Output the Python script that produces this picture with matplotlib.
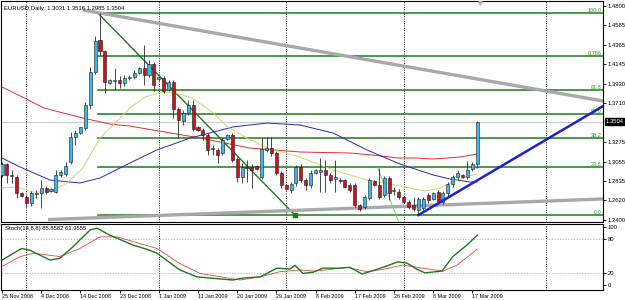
import numpy as np
import matplotlib
matplotlib.use("Agg")
import matplotlib.pyplot as plt
import matplotlib.transforms as mtrans

plt.rcParams['font.family'] = ['Liberation Sans', 'DejaVu Sans']

# EURUSD daily bars, bar 0 = 25 Nov 2008 ... bar 97 = 18 Mar 2009
opens = [1.2906, 1.3029, 1.2906, 1.2883, 1.2704, 1.2659, 1.2592, 1.2693, 1.2704, 1.2760,
         1.2726, 1.2715, 1.2906, 1.2917, 1.3051, 1.3331, 1.3376, 1.3432, 1.3690, 1.4060,
         1.4419, 1.4296, 1.3937, 1.3959, 1.3970, 1.3937, 1.3993, 1.4004, 1.4049, 1.4105,
         1.4027, 1.4150, 1.3982, 1.3993, 1.3858, 1.3948, 1.3645, 1.3511, 1.3601, 1.3690,
         1.3444, 1.3410, 1.3354, 1.3208, 1.3186, 1.3152, 1.3309, 1.3354, 1.3085, 1.2883,
         1.2995, 1.2995, 1.3006, 1.2883, 1.3186, 1.3208, 1.3152, 1.2928, 1.2793, 1.2737,
         1.2816, 1.2995, 1.2849, 1.2793, 1.2928, 1.2939, 1.2962, 1.2906, 1.2861, 1.2849,
         1.2849, 1.2793, 1.2793, 1.2569, 1.2547, 1.2648, 1.2838, 1.2793, 1.2681, 1.2872,
         1.2726, 1.2715, 1.2659, 1.2603, 1.2569, 1.2513, 1.2536, 1.2681, 1.2637, 1.2715,
         1.2603, 1.2704, 1.2805, 1.2883, 1.2906, 1.2883, 1.2973, 1.3031]
highs = [1.3051, 1.3040, 1.2962, 1.2906, 1.2715, 1.2681, 1.2726, 1.2737, 1.2849, 1.2782,
         1.2760, 1.2962, 1.2962, 1.3051, 1.3388, 1.3410, 1.3444, 1.3724, 1.4116, 1.4464,
         1.4722, 1.4307, 1.3982, 1.4105, 1.4015, 1.4027, 1.4027, 1.4083, 1.4116, 1.4363,
         1.4195, 1.4172, 1.4015, 1.4015, 1.3970, 1.3970, 1.3668, 1.3634, 1.3746, 1.3746,
         1.3455, 1.3432, 1.3376, 1.3242, 1.3208, 1.3320, 1.3365, 1.3376, 1.3107, 1.3040,
         1.3074, 1.3029, 1.3018, 1.3320, 1.3331, 1.3331, 1.3175, 1.2950, 1.2805, 1.2827,
         1.3018, 1.3029, 1.2872, 1.2962, 1.2973, 1.3096, 1.3074, 1.2928, 1.3074, 1.2872,
         1.2861, 1.2816, 1.2816, 1.2580, 1.2681, 1.2872, 1.2849, 1.2984, 1.2894, 1.2894,
         1.2771, 1.2749, 1.2670, 1.2625, 1.2659, 1.2659, 1.2659, 1.2704, 1.2715, 1.2737,
         1.2726, 1.2827, 1.2906, 1.2962, 1.2917, 1.3063, 1.3051, 1.3516]
lows = [1.2883, 1.2816, 1.2816, 1.2648, 1.2659, 1.2547, 1.2558, 1.2648, 1.2536, 1.2693,
        1.2715, 1.2704, 1.2883, 1.2894, 1.3029, 1.3242, 1.3365, 1.3410, 1.3645, 1.4038,
        1.4251, 1.3825, 1.3926, 1.3858, 1.3881, 1.3903, 1.3970, 1.3982, 1.4038, 1.3914,
        1.4004, 1.3847, 1.3959, 1.3825, 1.3847, 1.3544, 1.3320, 1.3466, 1.3578, 1.3399,
        1.3399, 1.3298, 1.3130, 1.3130, 1.3040, 1.3130, 1.3298, 1.3051, 1.2827, 1.2816,
        1.2827, 1.2760, 1.2962, 1.2861, 1.3163, 1.3118, 1.2906, 1.2760, 1.2737, 1.2704,
        1.2782, 1.2827, 1.2737, 1.2760, 1.2917, 1.2715, 1.2715, 1.2816, 1.2715, 1.2816,
        1.2760, 1.2715, 1.2547, 1.2502, 1.2524, 1.2625, 1.2782, 1.2637, 1.2659, 1.2625,
        1.2681, 1.2637, 1.2592, 1.2524, 1.2502, 1.2457, 1.2513, 1.2592, 1.2625, 1.2580,
        1.2580, 1.2670, 1.2771, 1.2849, 1.2872, 1.2861, 1.2950, 1.2985]
closes = [1.3029, 1.2906, 1.2894, 1.2704, 1.2670, 1.2592, 1.2704, 1.2704, 1.2760, 1.2715,
          1.2749, 1.2906, 1.2939, 1.3006, 1.3331, 1.3376, 1.3444, 1.3690, 1.4060, 1.4408,
          1.4296, 1.3948, 1.3970, 1.3970, 1.3937, 1.3993, 1.4004, 1.4049, 1.4105, 1.4027,
          1.4150, 1.3914, 1.4004, 1.3847, 1.3948, 1.3645, 1.3522, 1.3601, 1.3690, 1.3421,
          1.3410, 1.3354, 1.3186, 1.3197, 1.3130, 1.3298, 1.3354, 1.3074, 1.2883, 1.2995,
          1.2984, 1.2962, 1.2973, 1.3197, 1.3208, 1.3152, 1.2928, 1.2793, 1.2749, 1.2805,
          1.2995, 1.2849, 1.2793, 1.2928, 1.2962, 1.2962, 1.2906, 1.2849, 1.2883, 1.2838,
          1.2771, 1.2737, 1.2569, 1.2524, 1.2659, 1.2849, 1.2793, 1.2659, 1.2872, 1.2704,
          1.2737, 1.2659, 1.2603, 1.2547, 1.2524, 1.2637, 1.2637, 1.2625, 1.2704, 1.2603,
          1.2704, 1.2805, 1.2883, 1.2928, 1.2883, 1.2962, 1.3029, 1.3504]

# moving averages (bar index, price)
red_x = [0, 5, 8.5, 16.5, 22, 26, 40.5, 50.5, 61, 71, 75.5, 81, 84.5, 88, 93.5, 97]
red_ma = [1.3892, 1.3757, 1.3657, 1.3544, 1.3477, 1.3455, 1.3320, 1.3208, 1.3163, 1.3152,
          1.3130, 1.3096, 1.3096, 1.3085, 1.3107, 1.3141]
blue_x = [0, 3.7, 9.8, 15.9, 20, 26.1, 31.6, 38.4, 42.4, 47.1, 54.1, 60.8, 67.6, 74.5,
          81.2, 88, 91.4, 95.5, 97]
blue_ma = [1.3096, 1.2995, 1.2849, 1.2816, 1.2872, 1.3040, 1.3186, 1.3320, 1.3376, 1.3444,
           1.3488, 1.3466, 1.3376, 1.3186, 1.3029, 1.2906, 1.2861, 1.2827, 1.2827]
yel_x = [0, 3.1, 6.3, 9.8, 13.3, 16.5, 20, 23.5, 26.1, 29.2, 32.7, 35.3, 38.8, 42.9, 46.1,
         49.6, 54.1, 60.8, 67.6, 74.5, 81.2, 86.3, 89.4, 92.4, 94.5, 97]
yel_ma = [1.2760, 1.2771, 1.2715, 1.2715, 1.2816, 1.2984, 1.3320, 1.3511, 1.3657, 1.3780,
          1.3836, 1.3825, 1.3769, 1.3612, 1.3444, 1.3331, 1.3208, 1.3107, 1.2962, 1.2849,
          1.2782, 1.2726, 1.2760, 1.2838, 1.2883, 1.2917]

# stochastic (14,8,8)
k_x = [0, 4, 5.7, 9.8, 11.8, 14.5, 18, 19.4, 22, 26.7, 29.6, 31.6, 36.3, 39.8, 47.1, 49.2,
       52.7, 56.1, 58.8, 59.8, 61.4, 63.5, 65.5, 69, 71, 73.5, 75.7, 78.6, 80.8, 82.7, 84.7,
       86.3, 89.8, 92, 94.9, 97]
k_vals = [43, 63, 60, 43, 46, 66, 95, 98, 86, 69, 61.5, 55, 26, 14, 8.6, 12, 14, 29, 27.6,
          34, 20, 22, 29, 29, 30.5, 19, 24.7, 33, 40, 37.6, 27, 21, 24, 49, 69, 85.86]
d_x = [0, 3.7, 6.4, 11.8, 15.9, 20, 23.5, 31.6, 36.3, 40.4, 48.6, 52.7, 56.7, 60.8, 63.5,
       66.3, 70.4, 74.5, 77.8, 81.8, 85.9, 90, 92.9, 97]
d_vals = [32, 49, 55, 49, 63, 83, 83, 63, 37, 20, 8.6, 14, 23, 26, 24, 26, 30.5, 23, 27,
          34.5, 29, 24, 34.5, 61.96]

# fibonacci from the 18 Dec high to the 4 Mar low
fib_hi, fib_lo = 1.4720, 1.2456
fib_levels = [1.0, 0.786, 0.618, 0.5, 0.382, 0.236, 0.0]
fib_names = ['100.0', '0.786', '61.8', '50.0', '38.2', '23.6', '0.0']

# trendline anchors (bar index, price)
gray_top = ([16.5, 122.7], [1.4755, 1.3735])
gray_bot = ([9.4, 122.7], [1.2406, 1.2637])
blue_up = ([85, 122.7], [1.2457, 1.3679])
fib_diag = ([19.6, 59.8], [1.4720, 1.2456])
lgreen = ([76.7, 81.3], [1.2984, 1.2330])

price_ticks = [1.4800, 1.4585, 1.4365, 1.4145, 1.3930, 1.3710, 1.3275, 1.3055, 1.2835,
               1.2620, 1.2400]
date_pos = list(range(0, 97, 8))
date_labels = ['25 Nov 2008', '4 Dec 2008', '14 Dec 2008', '23 Dec 2008', '1 Jan 2009',
               '11 Jan 2009', '20 Jan 2009', '29 Jan 2009', '8 Feb 2009', '17 Feb 2009',
               '26 Feb 2009', '8 Mar 2009', '17 Mar 2009']
month_seps = [5, 32, 58, 82, 111]
last_price = 1.3504

W, H = 625.0, 300.0
fig = plt.figure(figsize=(6.25, 3.0), dpi=100)
ax = fig.add_axes([1.5 / W, 1 - 222 / H, 601.5 / W, 221 / H])
sub = fig.add_axes([1.5 / W, 1 - 290 / H, 601.5 / W, 66 / H])
xlim = (-0.1, 122.66)

# candles
idx = np.arange(len(closes))
o = np.array(opens)
c = np.array(closes)
up = c >= o
ax.vlines(idx, lows, highs, color='#2a2a2a', lw=0.6, zorder=4)
ax.bar(idx, np.maximum(np.abs(c - o), 0.0004), bottom=np.minimum(o, c), width=0.62,
       color=np.where(up, '#38b8ee', '#c8141e'), edgecolor='#1a1a1a', linewidth=0.4,
       zorder=5)

# moving averages
ax.plot(red_x, red_ma, color='#e03030', lw=0.7, zorder=3)
ax.plot(blue_x, blue_ma, color='#2828b8', lw=0.7, zorder=3)
ax.plot(yel_x, yel_ma, color='#c8d870', lw=0.7, zorder=3)

# fibonacci levels
for lev, name in zip(fib_levels, fib_names):
    p = fib_lo + lev * (fib_hi - fib_lo)
    ax.plot([19.6, xlim[1]], [p, p], color='#1d7a1d', lw=1.1, zorder=2)
    ax.text(122.3, p + 0.0003, name, color='#3c9a3c', fontsize=4, ha='right', va='bottom')
ax.plot(*fib_diag, color='#1d7a1d', lw=1.0, zorder=2)
ax.plot(fib_diag[0][1], fib_diag[1][1], 's', color='#1d7a1d', ms=2.2, zorder=6)

# trendlines
ax.plot(*gray_top, color='#a8a8a8', lw=2.4, zorder=2.5, solid_capstyle='butt')
ax.plot(*gray_bot, color='#a8a8a8', lw=2.4, zorder=2.5, solid_capstyle='butt')
ax.plot(*blue_up, color='#2020d0', lw=1.8, zorder=6)
ax.plot(*lgreen, color='#70d070', lw=0.7, zorder=2.5)

# bid line and grid
ax.axhline(last_price, color='#c8c8c8', lw=0.7, zorder=1)
for v in month_seps:
    ax.axvline(v, color='black', lw=0.6, ls=(0, (1.2, 1.6)), zorder=1)
    sub.axvline(v, color='black', lw=0.6, ls=(0, (1.2, 1.6)), zorder=1)

ax.set_xlim(*xlim)
ax.set_ylim(1.23787, 1.48561)
ax.yaxis.tick_right()
ax.set_yticks(price_ticks)
ax.set_yticklabels(['%.4f' % p for p in price_ticks])
ax.tick_params(axis='y', length=2, width=0.6, labelsize=4.2, pad=1.5)
ax.tick_params(axis='x', length=0, labelbottom=False)
for s in ax.spines.values():
    s.set_linewidth(0.8)

ax.text(0.004, 0.968, 'EURUSD,Daily  1.3031 1.3516 1.2985 1.3504', transform=ax.transAxes,
        fontsize=4.2, va='center', ha='left')
ax.plot(97.6, 1.4835, 'v', color='#b0b0b0', ms=2.5, zorder=6)
blend = mtrans.blended_transform_factory(ax.transAxes, ax.transData)
ax.text(1.004, last_price, '1.3504', transform=blend, fontsize=4.2, color='white',
        va='center', ha='left',
        bbox=dict(boxstyle='square,pad=0.15', facecolor='black', edgecolor='black'))

# stochastic window
sub.plot(d_x, d_vals, color='#e04848', lw=0.6, zorder=3)
sub.plot(k_x, k_vals, color='#1a7a1a', lw=1.0, zorder=4)
for lv in (80, 20):
    sub.axhline(lv, color='#a8a8a8', lw=0.5, ls=(0, (2, 2)), zorder=1)
sub.set_xlim(*xlim)
sub.set_ylim(-8.6, 105.2)
sub.yaxis.tick_right()
sub.set_yticks([100, 80, 20, 0])
sub.set_yticklabels(['100', '80', '20', '0'])
sub.tick_params(axis='y', length=2, width=0.6, labelsize=4.2, pad=1.5)
sub.set_xticks(date_pos)
sub.set_xticklabels(date_labels, ha='left')
sub.tick_params(axis='x', length=2, width=0.6, labelsize=3.9, pad=1)
for s in sub.spines.values():
    s.set_linewidth(0.8)
sub.text(0.006, 0.93, 'Stoch(14,8,8) 85.8582 61.9555', transform=sub.transAxes,
         fontsize=4.2, va='center', ha='left')

fig.savefig('out.png', dpi=100)
